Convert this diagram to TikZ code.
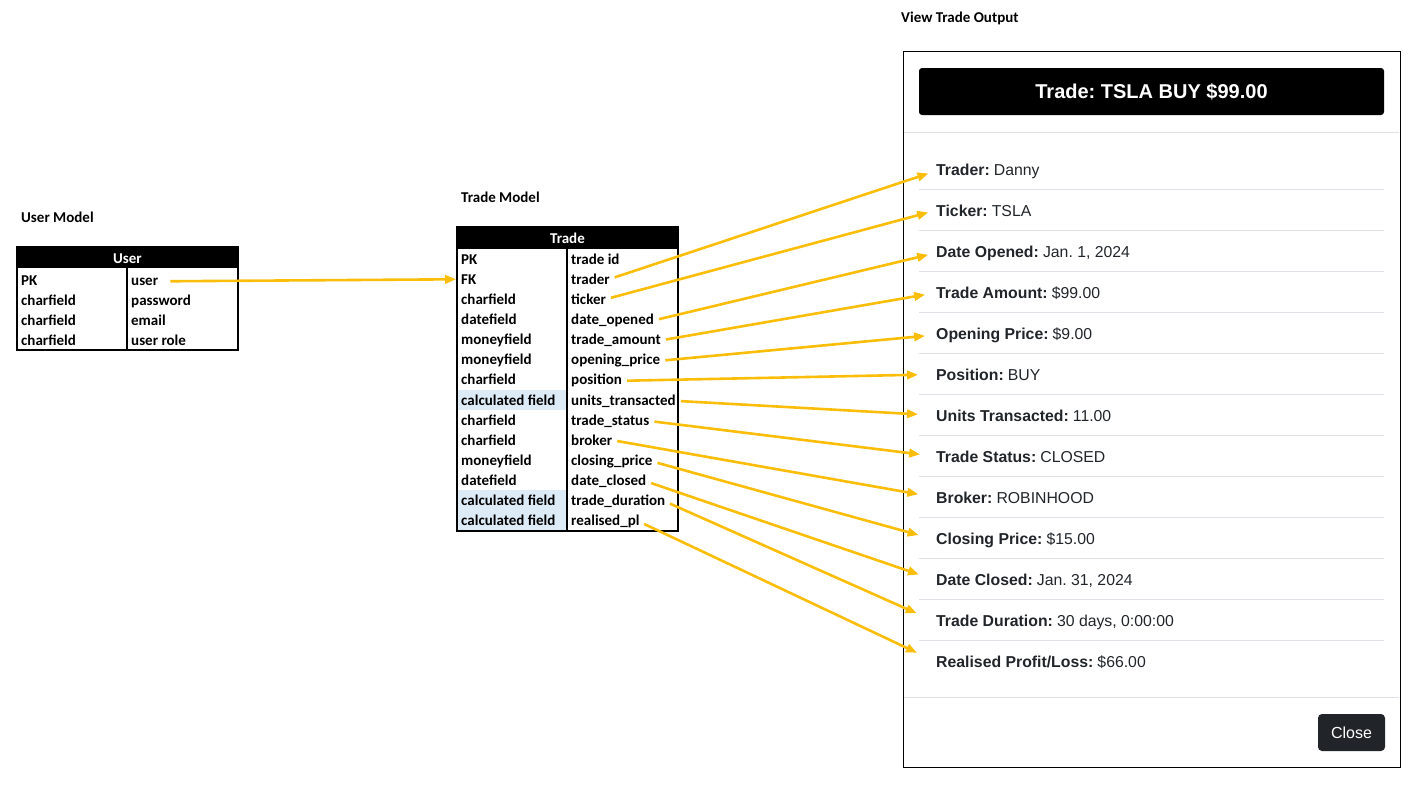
\documentclass[tikz,border=0pt]{standalone}
\usepackage{fontspec}
\usetikzlibrary{arrows.meta}
\newfontfamily\calibri{Carlito}
\newfontfamily\arial{Liberation Sans}
\frenchspacing
\definecolor{linkgold}{RGB}{250,190,10}
\definecolor{calcblue}{RGB}{221,235,247}
\definecolor{rulegray}{RGB}{222,226,230}
\definecolor{btndark}{RGB}{33,37,41}
\tikzset{
  caption/.style={font=\calibri\bfseries\fontsize{15}{18}\selectfont, anchor=base west, inner sep=0pt},
  cell/.style={font=\calibri\bfseries\fontsize{15}{18}\selectfont, anchor=base west, inner sep=0pt},
  headcell/.style={font=\calibri\bfseries\fontsize{15}{18}\selectfont, text=white, anchor=base, inner sep=0pt},
  outfield/.style={font=\arial\fontsize{15.8}{19}\selectfont, text=btndark, anchor=base west, inner sep=0pt},
  link/.style={draw=linkgold, line width=2.6pt, -{Triangle[length=11pt,width=8.5pt]}},
}
\begin{document}
\begin{tikzpicture}[x=1pt,y=-1pt]
\useasboundingbox (0,0) rectangle (1422,785);

% captions
\node[caption] (usercap) at (21,222) {User Model};
\node[caption] (tradecap) at (461,202) {Trade Model};
\node[caption] (viewcap) at (901,22) {View Trade Output};

% user model table
\fill (17,247) rectangle (238,268);
\node[headcell] (userhead) at (127.5,263) {User};
\draw[line width=2pt] (17,247) rectangle (238,350);
\draw[line width=2pt] (127,268) -- (127,350);
\node[cell] (u-pk) at (21,285) {PK};
\node[cell] (u-user) at (131,285) {user};
\node[cell] (u-type1) at (21,305) {charfield};
\node[cell] (u-password) at (131,305) {password};
\node[cell] (u-type2) at (21,325) {charfield};
\node[cell] (u-email) at (131,325) {email};
\node[cell] (u-type3) at (21,345) {charfield};
\node[cell] (u-role) at (131,345) {user role};

% trade model table
\foreach \i in {7,12,13}
  \fill[calcblue] (458,{248.5+20.15*\i}) rectangle (566,{268.65+20.15*\i});
\fill (457,227) rectangle (678,248.5);
\node[headcell] (tradehead) at (567.5,243) {Trade};
\draw[line width=2pt] (457,227) rectangle (678,531);
\draw[line width=2pt] (567,248.5) -- (567,531);
\coordinate (tradeleft) at (456,0);
\foreach \i/\id/\kind/\name in {0/tradeid/PK/trade id, 1/trader/FK/trader,
    2/ticker/charfield/ticker, 3/dateopened/datefield/date\_opened,
    4/tradeamount/moneyfield/trade\_amount, 5/openingprice/moneyfield/opening\_price,
    6/position/charfield/position, 7/units/calculated field/units\_transacted,
    8/status/charfield/trade\_status, 9/broker/charfield/broker,
    10/closingprice/moneyfield/closing\_price, 11/dateclosed/datefield/date\_closed,
    12/duration/calculated field/trade\_duration, 13/realised/calculated field/realised\_pl}
{
  \node[cell] (k-\id) at (461,{264+20.15*\i}) {\kind};
  \node[cell] (f-\id) at (571,{264+20.15*\i}) {\name};
}

% view trade output
\draw[line width=1pt] (903,51) rectangle (1400,767);
\fill[rounded corners=3pt] (919,68) rectangle (1384,115);
\node[font=\arial\bfseries\fontsize{20}{24}\selectfont, text=white] (modaltitle) at (1151.5,91.5) {Trade: TSLA BUY \$99.00};
\draw[rulegray, line width=1pt] (904,132) -- (1399,132);
\draw[rulegray, line width=1pt] (904,697) -- (1399,697);
\foreach \i in {0,...,11}
  \draw[rulegray, line width=1pt] (919,{189.5+41*\i}) -- (1384,{189.5+41*\i});
\foreach \i/\id/\key/\val in {0/trader/Trader/Danny, 1/ticker/Ticker/TSLA,
    2/dateopened/Date Opened/{Jan. 1, 2024}, 3/tradeamount/Trade Amount/\$99.00,
    4/openingprice/Opening Price/\$9.00, 5/position/Position/BUY,
    6/units/Units Transacted/11.00, 7/status/Trade Status/CLOSED,
    8/broker/Broker/ROBINHOOD, 9/closingprice/Closing Price/\$15.00,
    10/dateclosed/Date Closed/{Jan. 31, 2024}, 11/duration/Trade Duration/{30 days, 0:00:00},
    12/realised/{Realised Profit/Loss}/\$66.00}
  \node[outfield] (o-\id) at (936,{175+41*\i}) {\textbf{\key:}\hspace{0.26em}\val};
\node[fill=btndark, rounded corners=4pt, text=white, font=\arial\fontsize{16}{19}\selectfont,
  minimum width=67pt, minimum height=37pt, inner sep=0pt] (closebtn) at (1351.5,732.5) {Close};

% connectors
\draw[link, shorten <=12pt] (u-user.east) -- (tradeleft |- k-trader.west);
\foreach \id/\gap in {trader/8pt, ticker/8pt, dateopened/8pt, tradeamount/11pt,
    openingprice/11pt, position/18pt, units/18pt, status/16pt, broker/18pt,
    closingprice/18pt, dateclosed/18pt, duration/21pt, realised/21pt}
  \draw[link, shorten <=5pt, shorten >=\gap] (f-\id.east) -- (o-\id.west);

\end{tikzpicture}
\end{document}
